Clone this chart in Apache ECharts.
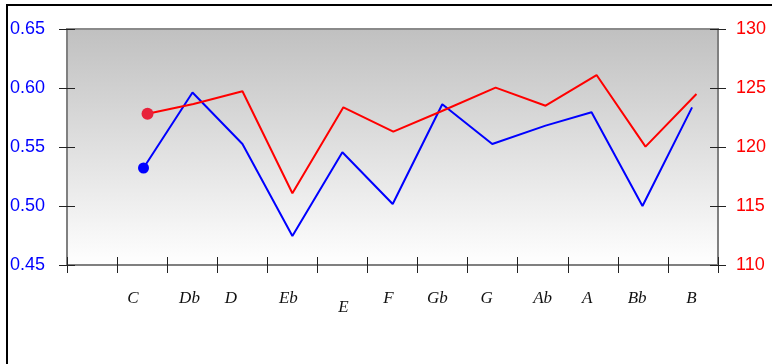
<!DOCTYPE html>
<html>
<head>
<meta charset="utf-8">
<script src="https://cdn.jsdelivr.net/npm/echarts@6/dist/echarts.min.js"></script>
<style>
html,body{margin:0;padding:0;background:#fff;}
#c{width:772px;height:364px;}
</style>
</head>
<body>
<div id="c"></div>
<script>
// Note names (x-axis labels) and their positions on the x scale
var noteNames = ['C','Db','D','Eb','E','F','Gb','G','Ab','A','Bb','B'];
var noteLabelX = [1.317,2.446,3.272,4.421,5.519,6.417,7.394,8.380,9.497,10.387,11.385,12.470];

// Blue series (left axis)
var blueX = [1.528,2.506,3.504,4.501,5.499,6.504,7.494,8.492,9.557,10.475,11.492,12.482];
var blueY = [0.5322,0.5962,0.5525,0.4746,0.5455,0.5017,0.5862,0.5525,0.5681,0.5794,0.5000,0.5836];

// Red series (right axis)
var redX = [1.608,2.526,3.504,4.501,5.519,6.516,7.488,8.559,9.557,10.575,11.552,12.570];
var redY = [122.82,123.64,124.72,116.08,123.36,121.30,123.05,125.03,123.50,126.10,120.03,124.49];

// Axis ranges / ticks
var leftMin = 0.45, leftMax = 0.65, leftStep = 0.05;
var rightMin = 110, rightMax = 130, rightStep = 5;
var xMin = 0, xMax = 13, xStep = 1;

function pairs(xs, ys){ return xs.map(function(x,i){ return [x, ys[i]]; }); }

var chart = echarts.init(document.getElementById('c'), null, {renderer:'canvas'});
var numFont = "'Liberation Sans Narrow','Arial Narrow','Liberation Sans',Arial,sans-serif";
var serifFont = "'Liberation Serif','Times New Roman',serif";
var tickStyle = {color:'#222', width:1};

var option = {
  animation:false,
  backgroundColor:'#fff',
  grid:{
    left:67, right:54, top:29, bottom:99,
    show:true,
    borderColor:'#8a8a8a', borderWidth:2,
    backgroundColor: new echarts.graphic.LinearGradient(0,0,0,1,[
      {offset:0,color:'#c0c0c0'},{offset:1,color:'#ffffff'}])
  },
  xAxis:[
    {type:'value', min:xMin, max:xMax, interval:xStep, position:'bottom',
     axisLine:{show:true, onZero:false, lineStyle:{color:'#808080', width:2}},
     axisTick:{show:true, length:8, lineStyle:tickStyle},
     axisLabel:{show:false}, splitLine:{show:false}},
    {type:'value', min:xMin, max:xMax, interval:xStep, position:'bottom',
     axisLine:{show:false, onZero:false},
     axisTick:{show:true, inside:true, length:8, lineStyle:tickStyle},
     axisLabel:{show:false}, splitLine:{show:false}},
    {type:'value', min:xMin, max:xMax, position:'bottom',
     axisLine:{show:false, onZero:false}, axisTick:{show:false}, splitLine:{show:false},
     axisLabel:{show:true, customValues:noteLabelX, margin:25,
       fontFamily:serifFont, fontStyle:'italic', fontSize:17, color:'#111',
       formatter:function(v){
         var idx = -1, best = 1e9;
         for (var i=0;i<noteLabelX.length;i++){ var d=Math.abs(noteLabelX[i]-v); if(d<best){best=d;idx=i;} }
         var n = noteNames[idx];
         return n === 'E' ? '{low|' + n + '}' : n;
       },
       rich:{low:{fontFamily:serifFont, fontStyle:'italic', fontSize:17, color:'#111', padding:[9,0,0,0]}}
     }}
  ],
  yAxis:[
    {type:'value', min:leftMin, max:leftMax, interval:leftStep, position:'left',
     axisLine:{show:true, onZero:false, lineStyle:{color:'#808080', width:2}},
     axisTick:{show:true, length:8, lineStyle:tickStyle},
     splitLine:{show:false},
     axisLabel:{show:true, margin:22, color:'#0000ff', fontSize:18, fontFamily:numFont,
       padding:[0,0,12,0],
       formatter:function(v){ return v.toFixed(2); }}},
    {type:'value', min:rightMin, max:rightMax, interval:rightStep, position:'right',
     axisLine:{show:true, onZero:false, lineStyle:{color:'#808080', width:2}},
     axisTick:{show:true, length:8, lineStyle:tickStyle},
     splitLine:{show:false},
     axisLabel:{show:true, margin:18, color:'#ff0000', fontSize:18, fontFamily:numFont,
       padding:[0,0,6,0]}},
    {type:'value', min:leftMin, max:leftMax, interval:leftStep, position:'left',
     axisLine:{show:false, onZero:false},
     axisTick:{show:true, inside:true, length:8, lineStyle:tickStyle},
     axisLabel:{show:false}, splitLine:{show:false}},
    {type:'value', min:rightMin, max:rightMax, interval:rightStep, position:'right',
     axisLine:{show:false, onZero:false},
     axisTick:{show:true, inside:true, length:8, lineStyle:tickStyle},
     axisLabel:{show:false}, splitLine:{show:false}}
  ],
  series:[
    {type:'line', xAxisIndex:0, yAxisIndex:0, data:pairs(blueX, blueY),
     lineStyle:{color:'#0000ff', width:2}, itemStyle:{color:'#0000ff'},
     symbol:'circle', symbolSize:function(v, p){ return p.dataIndex===0 ? 11 : 0; },
     showSymbol:true, z:3},
    {type:'line', xAxisIndex:0, yAxisIndex:1, data:pairs(redX, redY),
     lineStyle:{color:'#ff0000', width:2}, itemStyle:{color:'#e8213a'},
     symbol:'circle', symbolSize:function(v, p){ return p.dataIndex===0 ? 12 : 0; },
     showSymbol:true, z:4}
  ],
  graphic:[
    {type:'line', shape:{x1:7, y1:4, x2:7, y2:364}, style:{stroke:'#000', lineWidth:2}},
    {type:'line', shape:{x1:6, y1:5, x2:772, y2:5}, style:{stroke:'#000', lineWidth:2}}
  ]
};
chart.setOption(option);
</script>
</body>
</html>
